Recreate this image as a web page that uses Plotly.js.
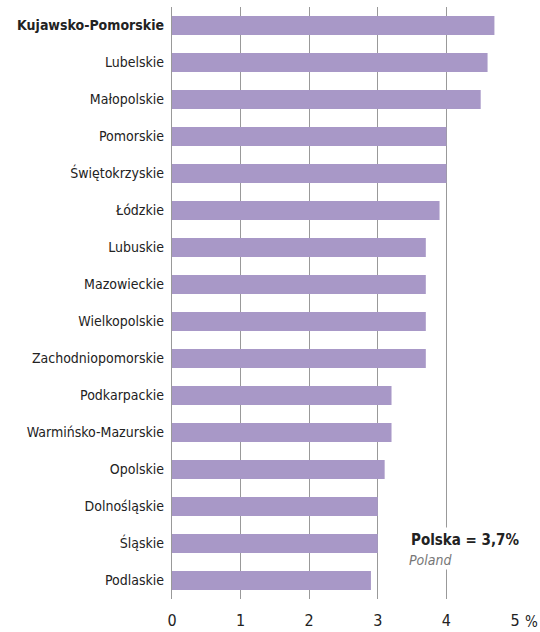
<!DOCTYPE html>
<html>
<head>
<meta charset="utf-8">
<script src="https://cdn.plot.ly/plotly-3.0.1.min.js"></script>
<style>body{margin:0;background:#fff}#chart{width:540px;height:632px}</style>
</head>
<body>
<div id="chart"></div>
<script>
const regions = ["Kujawsko-Pomorskie","Lubelskie","Małopolskie","Pomorskie","Świętokrzyskie","Łódzkie","Lubuskie","Mazowieckie","Wielkopolskie","Zachodniopomorskie","Podkarpackie","Warmińsko-Mazurskie","Opolskie","Dolnośląskie","Śląskie","Podlaskie"];
const values = [4.7,4.6,4.5,4.0,4.0,3.9,3.7,3.7,3.7,3.7,3.2,3.2,3.1,3.0,3.0,2.9];
const tickVals = [0,1,2,3,4,5];
const tickLabels = ["0","1","2","3","4","5"];
const highlight = "Kujawsko-Pomorskie";
const polandLabel = "Polska = 3,7%";
const polandSub = "Poland";

const FONT = "'Liberation Sans Narrow', 'DejaVu Sans Condensed', 'Roboto Condensed', sans-serif";
const catText = regions.map(r => r === highlight ? "<b>" + r + "</b>" : r);

const trace = {
  type: "bar",
  orientation: "h",
  y: regions,
  x: values,
  marker: {color: "#a898c7"},
  hoverinfo: "none"
};

const layout = {
  width: 540, height: 632,
  margin: {l: 172, r: 25, t: 7, b: 33},
  paper_bgcolor: "#fff", plot_bgcolor: "#fff",
  bargap: 0.49,
  showlegend: false,
  font: {family: FONT, color: "#222"},
  xaxis: {
    range: [0, 5], tickvals: tickVals, ticktext: tickLabels,
    showgrid: true, gridcolor: "#999", gridwidth: 1.2,
    zeroline: false, showline: false, ticks: "", ticklabelstandoff: 10,
    tickfont: {size: 16, color: "#222"}, fixedrange: true
  },
  yaxis: {
    type: "category", categoryorder: "array", categoryarray: regions,
    range: [15.5, -0.5], tickvals: regions, ticktext: catText,
    showgrid: false, zeroline: false, showline: true, linecolor: "#999", linewidth: 1.2,
    ticks: "", ticklabelstandoff: 4,
    tickfont: {size: 14, color: "#222"}, fixedrange: true
  },
  annotations: [
    {xref: "paper", yref: "paper", x: 1, y: 0, xanchor: "left", yanchor: "middle", xshift: 8, yshift: -23,
     text: "%", showarrow: false, font: {size: 15, color: "#222"}},
    {xref: "x", yref: "paper", x: 3.43, y: 0.0997, xanchor: "left", yanchor: "middle",
     text: "<b>" + polandLabel + "</b>", showarrow: false, bgcolor: "#fff",
     font: {size: 15, color: "#222"}, borderpad: 3},
    {xref: "x", yref: "paper", x: 3.43, y: 0.066, xanchor: "left", yanchor: "middle",
     text: "<i>" + polandSub + "</i>", showarrow: false, bgcolor: "#fff",
     font: {size: 14, color: "#777"}, borderpad: 1}
  ]
};

Plotly.newPlot("chart", [trace], layout, {displayModeBar: false, staticPlot: true});
</script>
</body>
</html>
